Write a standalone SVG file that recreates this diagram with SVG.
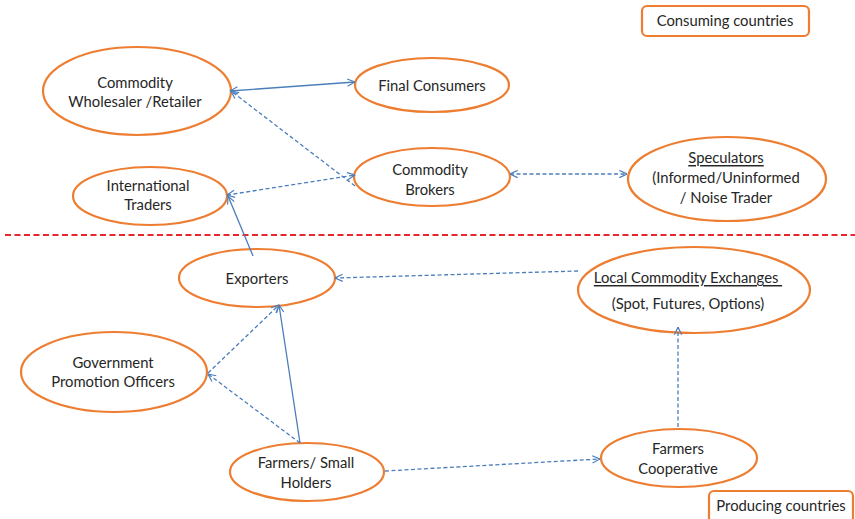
<svg xmlns="http://www.w3.org/2000/svg" width="855" height="519" viewBox="0 0 855 519">
  <style>
    .node ellipse, .node rect { fill: #ffffff; stroke: #ED7D31; stroke-width: 2.2; }
    text { font-family: Lato, "Open Sans", "Liberation Sans", sans-serif; font-size: 14.8px; fill: #262626; text-anchor: middle; dominant-baseline: central; }
    .link { fill: none; stroke: #4A7EBB; stroke-width: 1.3; }
    .dash { stroke-dasharray: 4 2.5; }
    .u { text-decoration: underline; }
  </style>
  <defs>
    <marker id="arr" viewBox="0 0 10 10" refX="9.5" refY="5" markerWidth="9" markerHeight="9" markerUnits="userSpaceOnUse" orient="auto-start-reverse">
      <path d="M1,1 L9.5,5 L1,9" fill="none" stroke="#4A7EBB" stroke-width="1.3"/>
    </marker>
  </defs>

  <rect width="855" height="519" fill="#ffffff"/>

  <!-- boundary between consuming and producing sides -->
  <line x1="5" y1="235" x2="855" y2="235" stroke="#E8262B" stroke-width="2" stroke-dasharray="6 3.5"/>

  <g id="consuming-label" class="node">
    <rect x="642" y="6" width="167" height="30" rx="5"/>
    <text x="725" y="20">Consuming countries</text>
  </g>

  <g id="wholesaler" class="node">
    <ellipse cx="137" cy="91" rx="94" ry="44"/>
    <text x="135" y="82">Commodity</text>
    <text x="135" y="101">Wholesaler /Retailer</text>
  </g>

  <g id="final-consumers" class="node">
    <ellipse cx="432" cy="85" rx="77" ry="27"/>
    <text x="432" y="85">Final Consumers</text>
  </g>

  <g id="brokers" class="node">
    <ellipse cx="432" cy="177" rx="78" ry="29"/>
    <text x="430" y="169">Commodity</text>
    <text x="430" y="189">Brokers</text>
  </g>

  <g id="international-traders" class="node">
    <ellipse cx="150" cy="196" rx="77" ry="29"/>
    <text x="148" y="185">International</text>
    <text x="148" y="204">Traders</text>
  </g>

  <g id="speculators" class="node">
    <ellipse cx="727" cy="179" rx="99" ry="42"/>
    <text x="726" y="157" class="u">Speculators</text>
    <text x="726" y="177">(Informed/Uninformed</text>
    <text x="726" y="197">/ Noise Trader</text>
  </g>

  <g id="exporters" class="node">
    <ellipse cx="257" cy="278" rx="78" ry="29"/>
    <text x="257" y="278">Exporters</text>
  </g>

  <g id="exchanges" class="node">
    <ellipse cx="694" cy="290" rx="116" ry="43"/>
    <text x="688" y="277" class="u" xml:space="preserve">Local Commodity Exchanges </text>
    <text x="688" y="303">(Spot, Futures, Options)</text>
  </g>

  <g id="government" class="node">
    <ellipse cx="114" cy="372" rx="93" ry="40"/>
    <text x="113" y="362">Government</text>
    <text x="113" y="381">Promotion Officers</text>
  </g>

  <g id="farmers" class="node">
    <ellipse cx="307" cy="472" rx="77" ry="29"/>
    <text x="306" y="462">Farmers/ Small</text>
    <text x="306" y="482">Holders</text>
  </g>

  <g id="cooperative" class="node">
    <ellipse cx="679" cy="458" rx="78" ry="29"/>
    <text x="678" y="448">Farmers</text>
    <text x="678" y="468">Cooperative</text>
  </g>

  <g id="producing-label" class="node">
    <rect x="709" y="491" width="144" height="34" rx="5"/>
    <text x="781" y="505">Producing countries</text>
  </g>

  <g id="connectors">
    <line class="link" x1="230" y1="91" x2="355" y2="82" marker-start="url(#arr)" marker-end="url(#arr)"/>
    <line class="link dash" x1="355" y1="186" x2="231" y2="91" marker-end="url(#arr)"/>
    <line class="link dash" x1="227" y1="195" x2="355" y2="175" marker-start="url(#arr)" marker-end="url(#arr)"/>
    <line class="link" x1="253" y1="256" x2="228" y2="196" marker-end="url(#arr)"/>
    <line class="link dash" x1="510" y1="174" x2="627" y2="174" marker-start="url(#arr)" marker-end="url(#arr)"/>
    <line class="link dash" x1="578" y1="271" x2="335" y2="278" marker-end="url(#arr)"/>
    <line class="link" x1="300" y1="443" x2="279" y2="305" marker-end="url(#arr)"/>
    <line class="link dash" x1="300" y1="443" x2="208" y2="374" marker-end="url(#arr)"/>
    <line class="link dash" x1="208" y1="373" x2="279" y2="305" marker-end="url(#arr)"/>
    <line class="link dash" x1="385" y1="471" x2="600" y2="459" marker-end="url(#arr)"/>
    <line class="link dash" x1="678" y1="427" x2="678" y2="327" marker-end="url(#arr)"/>
  </g>
</svg>
